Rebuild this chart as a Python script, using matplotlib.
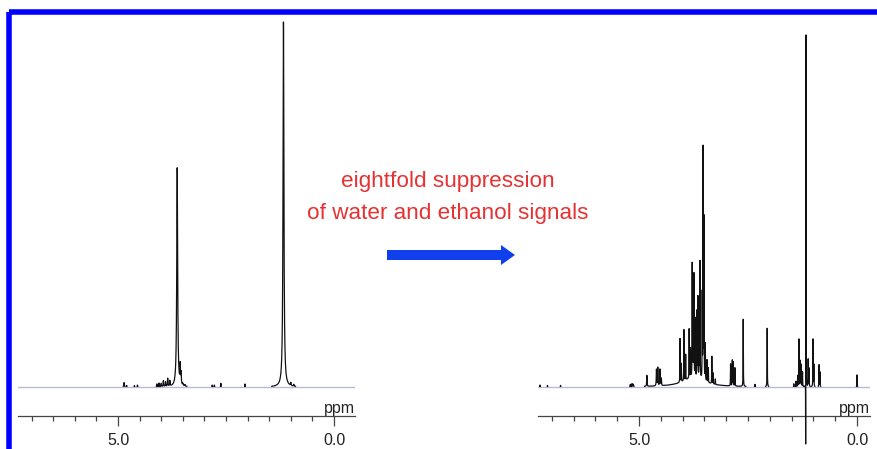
import numpy as np
import matplotlib
matplotlib.use("Agg")
import matplotlib.pyplot as plt
from matplotlib.ticker import FixedLocator, MultipleLocator
from matplotlib.patches import FancyArrow, Rectangle

plt.rcParams['font.family'] = ['Liberation Sans', 'DejaVu Sans']

# 1H peak tables (ppm, relative height, half width at half max in ppm)
# before suppression: ethanol in water
before_ppm = [4.86, 4.80, 4.62, 4.55, 4.10, 4.05, 4.00, 3.95, 3.90, 3.85, 3.80,
              3.63, 3.56, 3.54, 3.50, 3.45, 2.82, 2.77, 2.62, 2.06,
              1.17, 1.00, 0.93]
before_height = [1.2, 0.4, 0.4, 0.5, 0.8, 1.0, 0.9, 1.6, 1.3, 2.2, 1.5,
                 60.0, 5.0, 3.0, 0.5, 0.4, 0.5, 0.5, 1.0, 0.8,
                 100.0, 0.8, 0.5]
before_width = [0.008, 0.006, 0.006, 0.006, 0.006, 0.006, 0.006, 0.006, 0.006, 0.006, 0.006,
                0.012, 0.006, 0.006, 0.006, 0.006, 0.006, 0.006, 0.004, 0.004,
                0.012, 0.006, 0.006]

# after eightfold suppression of water and ethanol
after_ppm = [7.27, 7.10, 6.80, 5.20, 5.16, 5.13, 4.82,
             4.60, 4.57, 4.52, 4.49, 3.75,
             4.06, 4.03, 3.97, 3.93, 3.85, 3.82,
             3.78, 3.76, 3.74, 3.71, 3.67, 3.65, 3.62, 3.60, 3.55, 3.53, 3.51,
             3.48, 3.44, 3.41, 3.33, 3.30, 3.25,
             2.90, 2.86, 2.84, 2.80, 2.61, 2.34, 2.06,
             1.45, 1.40, 1.36, 1.33, 1.30, 1.28, 1.25,
             1.170, 1.178,
             1.12, 1.10, 1.01, 0.99, 0.87, 0.85, 0.00]
after_height = [0.5, 0.4, 0.4, 0.6, 0.8, 0.6, 3.0,
                4.5, 5.0, 4.5, 2.0, 2.5,
                12.0, 5.0, 14.0, 7.0, 13.5, 8.0,
                31.0, 18.0, 28.0, 16.0, 18.0, 22.0, 13.0, 32.0, 23.0, 63.0, 44.0,
                10.0, 6.0, 4.0, 7.5, 3.0, 1.5,
                6.0, 7.0, 6.5, 5.0, 18.4, 0.6, 16.0,
                0.8, 1.5, 3.0, 13.0, 7.0, 6.0, 4.0,
                97.0, -19.0,
                7.5, 5.0, 13.0, 6.0, 6.0, 4.0, 3.3]
after_width = ([0.005] * 11 + [0.3] + [0.003] * 37 + [0.0015, 0.0015] + [0.003] * 7)

ppm = np.linspace(7.4, -0.6, 32001)


def spectrum(pos, height, width):
    y = np.zeros_like(ppm)
    for p, h, w in zip(pos, height, width):
        y += h * w**2 / ((ppm - p)**2 + w**2)
    return y


W, H = 878, 449
fig = plt.figure(figsize=(W / 100, H / 100), dpi=100)

# pixel layout: baseline row, ppm scale row, top of plotting area
base_px, scale_px, top_px = 387, 416, 15
unit = 3.65  # pixels per intensity unit


def px_axes(x0, x1):
    return fig.add_axes([x0 / W, 0, (x1 - x0) / W, (H - top_px) / H])


def draw_panel(ax, y, xlim):
    ax.set_xlim(*xlim)
    ax.set_ylim(-(H - base_px) / unit, (base_px - top_px) / unit)
    ax.axhline(0, color='#b8b8dc', lw=1.0, zorder=1)
    ax.plot(ppm, np.ma.masked_inside(y, -0.2, 0.2), color='#111111', lw=0.9, zorder=3)
    for s in ('top', 'left', 'right'):
        ax.spines[s].set_visible(False)
    spine_y = -(scale_px - base_px) / unit
    ax.spines['bottom'].set_position(('data', spine_y))
    ax.spines['bottom'].set_color('#444444')
    ax.spines['bottom'].set_linewidth(0.9)
    ax.set_yticks([])
    ax.xaxis.set_major_locator(FixedLocator([5.0, 0.0]))
    ax.xaxis.set_minor_locator(MultipleLocator(0.5))
    ax.set_xticklabels(['5.0', '0.0'])
    ax.tick_params(axis='x', which='major', length=7, width=0.9, color='#444444',
                   labelsize=11.5, pad=5.5, labelcolor='#222222')
    ax.tick_params(axis='x', which='minor', length=3.5, width=0.9, color='#444444')
    ax.text(1.0, -(413 - base_px) / unit, 'ppm', transform=ax.get_yaxis_transform(),
            ha='right', va='baseline', fontsize=11.5, color='#222222')
    ax.patch.set_visible(False)


ax1 = px_axes(18, 355)
draw_panel(ax1, spectrum(before_ppm, before_height, before_width), (7.315, -0.486))

ax2 = px_axes(538, 870)
draw_panel(ax2, spectrum(after_ppm, after_height, after_width), (7.317, -0.298))

# overlay in pixel coordinates for frame, caption and arrow
ov = fig.add_axes([0, 0, 1, 1], zorder=5)
ov.set_xlim(0, W)
ov.set_ylim(H, 0)
ov.axis('off')
ov.add_patch(Rectangle((9.5, 12), 1000, 1000, fill=False, ec='#0000ff', lw=4.0))
ov.text(448, 182, 'eightfold suppression', ha='center', va='center',
        fontsize=16.2, color='#e63232')
ov.text(448, 213, 'of water and ethanol signals', ha='center', va='center',
        fontsize=16.2, color='#e63232')
ov.add_patch(FancyArrow(387, 255, 128, 0, width=10, head_width=20, head_length=14,
                        length_includes_head=True, color='#1040ee', lw=0))

fig.savefig('out.png', dpi=100)
